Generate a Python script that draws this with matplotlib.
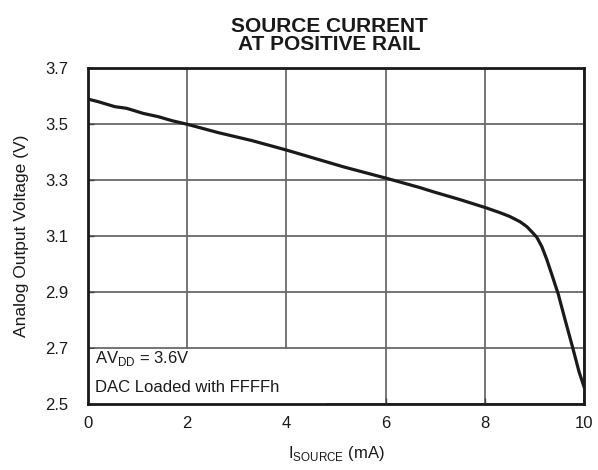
import matplotlib
matplotlib.use("Agg")
import matplotlib.pyplot as plt
from matplotlib.patches import Rectangle

plt.rcParams['font.family'] = ['Liberation Sans', 'DejaVu Sans']

# Data
current_ma = [0.0, 0.2, 0.54, 0.78, 1.11, 1.42, 1.69, 2.0, 2.63, 3.3, 4.0, 5.15, 6.02, 6.69,
              6.96, 7.5, 8.02, 8.31, 8.5, 8.71, 8.85, 8.98, 9.05, 9.15, 9.25, 9.35, 9.48,
              9.62, 9.78, 9.9, 10.0]
voltage_v = [3.589, 3.58, 3.562, 3.556, 3.538, 3.526, 3.512, 3.499, 3.469, 3.441, 3.407, 3.347,
             3.306, 3.273, 3.258, 3.230, 3.201, 3.183, 3.170, 3.151, 3.133, 3.109, 3.095, 3.062,
             3.016, 2.963, 2.893, 2.80, 2.696, 2.615, 2.562]
x_ticks = [0, 2, 4, 6, 8, 10]
y_ticks = [2.5, 2.7, 2.9, 3.1, 3.3, 3.5, 3.7]

fig = plt.figure(figsize=(5.98, 4.70), dpi=100)
ax = fig.add_axes([88/598, 66/470, 496/598, 336/470])

ax.set_xlim(0, 10)
ax.set_ylim(2.5, 3.7)
ax.set_xticks(x_ticks)
ax.set_yticks(y_ticks)
ax.set_yticklabels([f"{v:.1f}" for v in y_ticks])
ax.grid(True, color='#6a6a6a', linewidth=1.3, zorder=1)
ax.set_axisbelow(True)

# white annotation box covering the grid (below the 2.7 gridline)
ax.add_patch(Rectangle((0, 2.5), 4.8, 0.195, facecolor='white', edgecolor='none', zorder=1.5))

ax.plot(current_ma, voltage_v, color='#1a1a1a', linewidth=2.3, zorder=3,
        solid_joinstyle='round')

for s in ax.spines.values():
    s.set_linewidth(2.0)
    s.set_color('#1a1a1a')
    s.set_zorder(4)

ax.tick_params(axis='both', direction='in', length=4, width=1, color='#444444',
               labelsize=12, labelcolor='#1a1a1a')
ax.tick_params(axis='x', pad=9)
ax.tick_params(axis='y', pad=14)

ax.text(0.15, 2.662, r'AV$_{\mathregular{DD}}$ = 3.6V', fontsize=12, color='#1a1a1a',
        va='center', ha='left', zorder=5)
ax.text(0.15, 2.56, 'DAC Loaded with FFFFh', fontsize=12, color='#1a1a1a',
        va='center', ha='left', zorder=5)

ax.set_xlabel(r'I$_{\mathregular{SOURCE}}$ (mA)', fontsize=12, color='#1a1a1a', labelpad=9)
ax.set_ylabel('Analog Output Voltage (V)', fontsize=12.5, color='#1a1a1a', labelpad=12)
ax.set_title('SOURCE CURRENT\nAT POSITIVE RAIL', fontsize=15, fontweight='bold',
             color='#1a1a1a', pad=13, linespacing=0.95, x=0.486)

fig.savefig('out.png', dpi=100)
